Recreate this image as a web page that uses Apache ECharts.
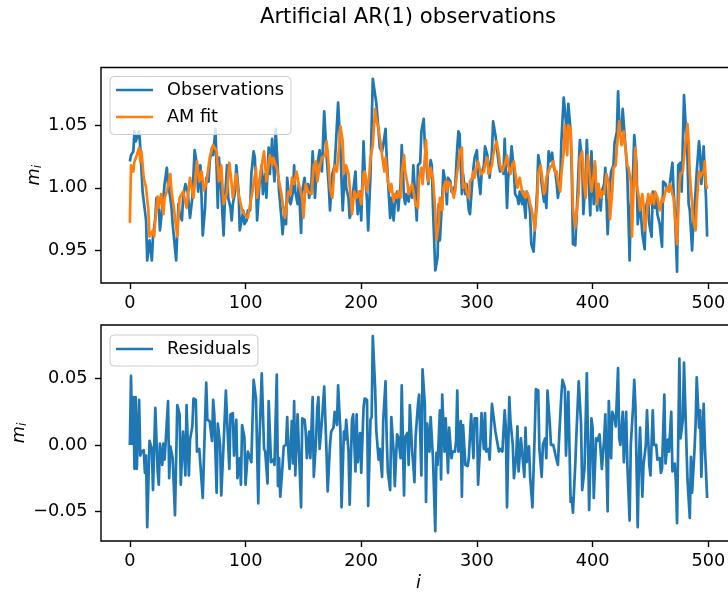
<!DOCTYPE html>
<html><head><meta charset="utf-8">
<script src="https://cdn.jsdelivr.net/npm/echarts@6/dist/echarts.min.js"></script>
<style>html,body{margin:0;padding:0;background:#fff}#c{width:728px;height:593px}</style>
</head><body><div id="c"></div>
<script>
const titleText = 'Artificial AR(1) observations';
const xTicks = [0, 100, 200, 300, 400, 500];
const topYTicks = [0.95, 1.00, 1.05];
const botYTicks = [-0.05, 0.00, 0.05];

const obsIdx = [0,1,3,4,5,7,8,9,11,12,
14,15,17,19,20,22,23,25,26,28,
29,30,32,33,35,36,37,40,42,43,
45,46,48,49,50,52,54,56,58,59,
61,62,63,65,66,68,69,71,72,74,
76,77,78,79,81,82,84,85,87,88,
89,91,92,94,95,97,98,99,101,102,
104,105,107,108,109,110,112,114,115,117,
118,120,121,123,124,125,126,128,129,131,
132,134,135,136,138,139,141,142,143,145,
146,148,149,151,152,154,155,157,158,160,
161,162,164,165,166,168,170,171,172,173,
175,177,178,180,182,183,184,186,187,189,
190,192,193,195,196,197,199,200,202,203,
205,206,208,209,210,212,213,215,216,218,
219,221,222,223,225,226,228,229,231,232,
234,235,237,238,239,241,242,244,245,247,
248,249,251,252,254,255,257,258,260,261,
262,264,265,266,267,268,270,271,273,274,
275,277,278,280,281,283,284,285,287,288,
290,291,293,294,296,297,298,300,301,303,
304,306,307,309,310,311,313,314,316,317,
319,320,322,323,324,326,327,329,330,332,
333,335,336,337,339,340,342,343,345,346,
347,349,350,352,353,355,356,358,359,360,
362,363,365,366,368,369,370,372,373,375,
376,378,379,381,382,383,385,386,388,389,
391,392,394,395,396,398,399,401,402,404,
405,407,408,410,411,413,415,416,418,419,
421,422,423,425,426,428,429,430,432,433,
435,436,438,439,441,442,443,445,446,448,
449,451,452,454,455,456,458,460,461,463,
464,466,467,469,470,471,473,474,476,477,
479,480,482,483,484,486,487,489,490,492,
493,494,496,497,498,499];
const obsVal = [1.021,1.026,1.029,1.045,1.037,1.042,1.045,1.032,0.997,0.997,
0.974,0.942,0.958,0.942,0.961,0.976,0.992,0.984,0.966,0.984,
0.992,1.003,1.016,1.003,0.992,0.984,0.971,0.942,0.987,0.979,
0.974,0.992,1.003,1.003,0.997,0.976,0.992,1.030,1.018,0.997,
1.018,0.992,0.962,0.984,1.008,1.005,1.021,1.032,1.026,1.047,
0.984,1.024,1.011,0.997,0.962,0.987,1.018,0.992,0.984,0.974,
0.987,0.997,1.018,0.997,0.966,0.976,0.982,0.971,0.974,0.982,
0.982,1.011,1.029,1.024,1.005,0.974,1.003,1.018,0.995,1.011,
0.992,1.032,1.011,1.039,1.018,1.005,1.047,1.013,0.997,0.976,
0.963,0.984,0.971,1.008,0.989,0.987,0.997,1.018,0.997,0.987,
1.003,0.964,0.997,1.008,0.997,1.003,0.992,1.005,1.029,0.992,
1.008,1.018,1.030,1.018,1.013,1.061,1.026,1.013,1.000,0.982,
1.011,1.018,1.033,1.068,1.032,1.005,0.982,1.018,1.000,0.992,
0.976,0.982,0.997,1.013,0.992,0.979,0.997,0.974,1.037,1.013,
0.990,0.966,1.010,1.050,1.087,1.074,1.068,1.045,1.032,1.029,
1.034,1.047,1.024,1.008,0.976,0.992,0.974,0.987,0.997,0.982,
1.003,1.034,0.992,0.987,0.995,0.989,1.000,0.992,1.018,0.989,
0.974,1.018,1.020,1.045,1.055,1.034,1.011,1.003,1.022,1.018,
0.984,0.934,0.939,0.945,0.987,0.958,0.992,1.014,1.003,0.987,
1.008,1.005,0.997,1.000,0.997,1.032,1.045,1.043,0.995,1.011,
0.995,1.003,0.982,0.979,1.005,1.016,1.024,1.030,1.011,0.995,
1.011,1.018,1.033,1.026,1.018,1.008,1.029,1.053,1.042,1.034,
1.018,1.013,1.016,1.011,1.039,0.984,1.008,1.021,1.033,1.013,
0.995,0.992,0.987,0.997,0.987,0.997,0.976,0.997,0.989,0.979,
0.955,0.949,0.966,0.997,1.026,1.016,1.003,0.989,0.995,0.984,
1.029,1.021,1.028,1.018,1.011,1.003,0.992,1.005,1.037,1.072,
1.063,1.039,1.067,1.045,1.011,0.955,0.954,0.974,1.018,1.038,
1.021,0.979,1.011,1.038,1.018,0.978,1.029,0.987,1.018,0.982,
1.003,0.982,0.997,1.003,1.016,0.963,1.003,1.013,1.018,1.036,
1.045,1.077,1.053,1.045,1.063,1.037,1.026,1.011,0.942,0.984,
1.013,1.042,1.018,0.971,0.989,0.976,0.963,0.951,0.984,0.992,
0.971,0.961,0.997,0.984,0.992,0.979,0.971,0.953,1.005,1.003,
1.000,0.997,1.005,1.020,0.997,0.984,0.933,1.018,1.020,0.997,
1.074,1.074,1.024,0.987,0.982,0.950,0.971,0.997,1.013,1.037,
1.026,1.003,1.033,1.011,0.992,0.961];

const fitIdx = [0,1,3,4,6,8,9,10,12,14,
16,17,20,21,22,24,25,27,29,30,
32,35,36,38,41,43,46,49,52,55,
58,60,62,64,66,69,72,75,77,79,
81,84,86,88,89,92,94,97,99,102,
104,106,109,110,112,114,116,118,119,121,
123,124,125,127,129,131,133,134,135,137,
139,140,142,144,146,147,149,150,152,154,
157,159,161,162,164,166,169,170,171,173,
175,177,179,181,182,184,185,187,189,191,
192,194,196,198,200,202,203,205,207,208,
210,212,213,215,217,218,220,221,223,225,
226,228,229,231,232,234,235,237,238,240,
241,242,244,247,249,250,252,253,255,256,
257,258,260,261,262,264,265,267,268,270,
271,273,274,275,277,278,280,281,283,284,
285,287,288,290,291,293,294,296,297,298,
300,301,303,304,306,307,309,310,311,313,
314,316,317,319,320,322,323,324,326,327,
329,330,332,333,335,336,337,339,340,342,
343,345,346,347,349,350,352,353,355,356,
358,359,360,362,363,365,366,368,369,370,
372,373,375,376,378,379,381,382,383,385,
386,388,389,391,392,394,395,396,398,399,
401,402,404,405,407,408,410,411,412,414,
415,417,418,420,421,423,424,425,427,428,
430,431,433,434,435,437,438,440,441,443,
444,445,447,448,450,451,453,454,456,457,
458,460,461,463,464,466,467,469,470,471,
473,475,476,478,480,482,483,484,486,487,
489,490,492,493,494,496,497,498,499];
const fitVal = [0.972,1.018,1.013,1.021,1.026,1.032,1.021,1.029,1.008,1.000,
0.982,0.961,0.966,0.961,0.974,0.993,0.984,0.995,0.979,0.992,
0.997,1.011,0.997,0.984,0.961,0.992,0.997,0.984,1.008,0.992,
1.021,1.005,1.013,0.998,1.003,1.024,1.034,1.029,1.005,1.018,
0.987,0.997,1.020,1.003,0.992,1.011,0.995,0.982,0.979,0.976,
0.987,0.997,1.016,0.992,1.005,1.018,1.029,1.005,1.013,1.026,
1.018,1.024,1.021,1.016,1.005,0.995,0.982,0.976,0.982,0.997,
0.995,1.008,1.003,1.013,1.003,1.003,0.992,0.976,1.003,0.997,
0.995,1.018,1.021,1.005,1.016,1.024,1.026,1.037,1.029,1.000,
0.992,1.018,1.013,1.034,1.049,1.037,1.011,1.018,1.011,0.992,
0.979,0.997,0.992,0.997,0.987,1.011,1.013,0.997,1.011,1.024,
1.034,1.063,1.055,1.047,1.034,1.026,1.013,1.024,1.005,0.997,
1.003,0.989,0.995,0.992,0.997,0.992,1.011,1.026,1.013,1.003,
0.995,0.997,1.003,0.987,0.984,1.008,1.016,1.003,1.024,1.038,
1.018,1.005,1.016,1.011,1.008,0.982,0.958,0.971,0.992,0.982,
1.000,1.005,0.997,1.005,1.003,1.000,0.992,0.997,1.013,1.018,
1.029,1.032,1.000,1.003,0.997,0.992,1.005,1.008,1.013,1.008,
1.018,1.021,1.013,1.011,1.013,1.018,1.024,1.011,1.013,1.018,
1.026,1.034,1.037,1.026,1.018,1.013,1.016,1.018,1.026,1.018,
1.011,1.016,1.021,1.013,1.000,1.005,1.008,0.997,0.995,0.992,
0.997,0.992,0.987,0.984,0.974,0.966,0.987,1.011,1.018,1.011,
0.995,0.997,1.008,1.013,1.016,1.018,1.021,1.011,1.013,1.005,
0.997,1.011,1.029,1.050,1.026,1.050,1.047,1.021,0.984,0.968,
0.968,0.997,1.024,1.029,1.008,0.992,1.018,1.026,1.005,0.997,
1.011,1.021,0.987,1.003,0.992,0.997,0.995,1.003,1.011,1.003,
0.975,0.997,1.016,1.018,1.032,1.053,1.042,1.034,1.045,1.034,
1.018,1.016,1.005,0.961,0.989,1.032,1.003,0.992,0.982,0.995,
0.987,0.966,0.979,0.995,0.987,0.995,0.987,0.997,0.992,0.987,
0.982,0.992,0.989,0.997,1.000,0.997,1.003,0.995,0.992,0.979,
0.955,1.003,1.011,1.013,1.034,1.051,1.037,1.011,0.987,0.974,
0.966,0.987,1.013,1.008,1.011,1.013,1.021,1.003,0.999];

const resIdx = [0,1,2,3,4,5,6,8,9,10,
12,13,14,15,17,19,20,22,24,25,
26,28,29,30,31,33,34,35,37,39,
41,43,44,46,48,49,51,52,54,55,
57,58,60,61,63,64,66,67,69,71,
72,73,75,76,78,79,81,83,85,86,
87,89,90,92,93,95,96,97,99,100,
102,103,105,107,109,111,112,114,116,117,
119,120,121,122,124,125,127,128,129,130,
132,133,135,136,137,138,140,141,142,143,
145,146,148,149,151,152,153,155,156,158,
159,161,162,163,164,166,167,168,170,171,
173,174,176,177,179,180,182,183,185,186,
187,189,190,192,193,195,196,197,199,200,
202,203,205,206,208,209,210,212,213,215,
216,218,219,221,222,223,225,226,228,229,
231,232,234,235,237,238,240,241,242,244,
245,246,247,249,250,252,253,255,256,257,
259,260,262,264,265,266,268,269,270,272,
273,275,276,278,279,281,282,283,284,286,
287,288,290,292,293,295,297,298,300,301,
303,304,306,307,308,310,311,313,314,316,
318,319,320,322,324,325,326,328,329,331,
332,334,335,336,338,339,341,342,343,345,
346,348,350,351,353,354,356,357,359,360,
361,363,364,366,367,368,370,371,373,374,
376,377,379,381,382,383,385,386,388,390,
391,393,395,397,399,400,401,403,404,406,
407,408,410,411,413,414,416,417,419,420,
422,423,424,426,427,429,430,432,433,435,
436,437,439,440,441,443,444,446,447,449,
450,452,453,455,456,458,459,460,462,463,
465,466,468,469,471,472,473,475,476,478,
479,481,482,484,485,486,488,489,490,492,
493,494,496,497,498,499];
const resVal = [0,0.052,0.001,0.036,-0.018,0.036,-0.018,0.034,-0.008,-0.005,
-0.004,-0.021,-0.008,-0.062,0.003,-0.003,-0.034,0.028,-0.020,-0.030,
0.001,-0.015,0.001,-0.011,0.003,0.033,-0.025,-0.001,-0.010,-0.053,
0.030,0.023,-0.030,0.010,-0.023,0.030,-0.023,0.004,0.014,0.035,
0.034,-0.005,-0.003,-0.015,-0.040,-0.040,0.047,0.019,0.018,0.003,
0.034,0.023,-0.036,0.016,0.000,-0.038,0.000,0.041,0.000,-0.018,
0.023,0.024,-0.008,0.019,-0.025,-0.010,-0.030,0.015,0.006,-0.030,
-0.005,-0.005,-0.013,0.049,0.035,-0.044,0.003,0.054,-0.003,-0.005,
-0.029,0.033,0.032,-0.013,-0.011,-0.015,0.053,-0.031,-0.010,-0.039,
-0.015,-0.001,0.000,0.021,-0.005,-0.018,0.018,-0.014,0.033,-0.023,
0.023,0.000,-0.047,0.020,0.019,0.010,-0.010,0.010,-0.010,0.036,
-0.024,0.005,0.028,0.036,-0.003,0.018,0.019,0.044,-0.006,-0.035,
0.000,0.010,0.013,0.025,0.015,0.045,0.010,-0.047,0.010,0.004,
0.019,-0.005,-0.045,0.019,0.023,-0.020,0.023,-0.013,0.009,-0.021,
0.028,0.035,0.034,-0.046,0.019,0.021,0.082,0.043,0.011,-0.011,
-0.003,-0.024,0.018,0.048,0.005,-0.020,-0.034,0.021,-0.005,-0.031,
0.008,0.006,-0.010,0.045,-0.038,0.006,0.009,-0.015,0.030,-0.005,
-0.015,-0.028,0.006,0.030,0.038,-0.023,0.057,0.030,-0.043,0.016,
-0.005,0.021,-0.010,-0.065,-0.006,-0.015,0.026,-0.026,0.038,-0.005,
0.020,-0.021,0.013,-0.010,-0.005,-0.005,0.003,0.041,-0.005,0.018,
-0.039,0.015,-0.015,-0.016,-0.010,0.023,-0.010,0.020,0.020,-0.030,
0.003,0.024,-0.003,0.024,-0.005,-0.003,-0.011,0.031,0.030,0.010,
0.000,-0.005,-0.003,-0.005,0.026,0.013,-0.047,0.036,0.018,0.000,
-0.025,-0.008,0.014,-0.020,0.005,0.006,-0.024,0.013,-0.013,-0.001,
-0.024,-0.047,0.010,0.042,0.041,-0.003,-0.024,0.000,0.005,-0.010,
0.041,0.016,0.000,0.000,0.001,-0.008,-0.015,0.004,0.038,0.049,
0.043,-0.008,0.040,-0.043,-0.040,-0.051,-0.015,0.008,0.048,0.016,
-0.034,-0.018,0.054,-0.049,0.020,0.013,-0.040,0.005,0.003,0.008,
-0.005,-0.018,0.005,0.023,-0.050,0.033,-0.010,0.025,0.020,0.014,
0.058,0.005,0.000,0.025,-0.013,0.025,-0.014,-0.057,0.000,0.029,
0.049,0.030,-0.062,-0.014,0.013,-0.039,-0.015,0.000,0.026,-0.015,
-0.023,0.026,0.000,0.000,-0.011,-0.010,-0.021,-0.018,0.038,-0.014,
0.004,-0.005,0.025,-0.020,-0.014,-0.028,-0.059,0.065,0.005,0.019,
0.062,0.003,-0.026,-0.055,-0.009,-0.036,-0.005,0.015,0.051,0.013,
0.026,-0.024,0.031,0.000,-0.020,-0.040];

const FONT = 'DejaVu Sans';
const FS = 17.7;
const BLUE = '#1f77b4', ORANGE = '#ff7f0e';
const LW = 2.7;

function pairs(xs, ys) {
  const n = Math.min(xs.length, ys.length);
  const out = [];
  for (let k = 0; k < n; k++) out.push([xs[k], ys[k]]);
  return out;
}
const fmt = v => (Math.abs(v) < 1e-9 ? 0 : v).toFixed(2).replace('-', '\u2212');

const chart = echarts.init(document.getElementById('c'), null, {renderer: 'canvas'});

function xAxisCfg(gi, withName) {
  return {
    type: 'value', gridIndex: gi, min: -24.95, max: 523.95,
    axisLine: {show: false, onZero: false},
    splitLine: {show: false},
    axisTick: {show: true, customValues: xTicks, length: 6, lineStyle: {color: '#000', width: 1.4}},
    axisLabel: {customValues: xTicks, color: '#000', fontFamily: FONT, fontSize: FS, margin: 11,
      formatter: v => String(v)},
    name: withName ? '{a|i}' : '',
    nameLocation: 'middle', nameGap: 33, nameMoveOverlap: false,
    nameTextStyle: {rich: {a: {fontFamily: FONT, fontStyle: 'italic', fontSize: FS, color: '#000'}}}
  };
}
function yAxisCfg(gi, mn, mx, ticks, gap) {
  return {
    type: 'value', gridIndex: gi, min: mn, max: mx,
    axisLine: {show: false, onZero: false},
    splitLine: {show: false},
    axisTick: {show: true, customValues: ticks, length: 6, lineStyle: {color: '#000', width: 1.4}},
    axisLabel: {customValues: ticks, color: '#000', fontFamily: FONT, fontSize: FS, margin: 13.5, formatter: fmt},
    name: '{a|m}{b|i}', nameLocation: 'middle', nameRotate: 90, nameGap: gap, nameMoveOverlap: false,
    nameTextStyle: {rich: {
      a: {fontFamily: FONT, fontStyle: 'italic', fontSize: FS, color: '#000', lineHeight: 20},
      b: {fontFamily: FONT, fontStyle: 'italic', fontSize: 12.4, color: '#000', lineHeight: 7, verticalAlign: 'bottom'}
    }}
  };
}

const legendCommon = {
  orient: 'vertical', left: 110, itemWidth: 37, itemHeight: 2.7, itemGap: 9, icon: 'rect',
  backgroundColor: 'rgba(255,255,255,0.8)', borderColor: '#cccccc', borderWidth: 1, borderRadius: 4,
  textStyle: {fontFamily: FONT, fontSize: FS, color: '#000', lineHeight: 18, padding: [0, 0, 0, 9]}
};

chart.setOption({
  animation: false,
  backgroundColor: '#ffffff',
  graphic: [{
    type: 'text', x: 408, y: 17, z: 10,
    style: {text: titleText, font: '21.2px "DejaVu Sans"', fill: '#000', align: 'center', verticalAlign: 'middle'}
  }],
  grid: [
    {left: 101, top: 67.5, width: 635, height: 215.5, show: true, borderColor: '#000', borderWidth: 1.4,
      backgroundColor: 'transparent', containLabel: false, outerBoundsMode: 'none'},
    {left: 101, top: 325, width: 635, height: 216, show: true, borderColor: '#000', borderWidth: 1.4,
      backgroundColor: 'transparent', containLabel: false, outerBoundsMode: 'none'}
  ],
  xAxis: [xAxisCfg(0, false), xAxisCfg(1, true)],
  yAxis: [yAxisCfg(0, 0.924, 1.096, topYTicks, 57), yAxisCfg(1, -0.0724, 0.0904, botYTicks, 72)],
  legend: [
    Object.assign({}, legendCommon, {top: 76.5, padding: [4.5, 7, 8.5, 6], data: ['Observations', 'AM fit']}),
    Object.assign({}, legendCommon, {top: 335, padding: [5, 7, 8, 6], data: ['Residuals']})
  ],
  series: [
    {name: 'Observations', type: 'line', xAxisIndex: 0, yAxisIndex: 0, data: pairs(obsIdx, obsVal),
      symbol: 'none', lineStyle: {color: BLUE, width: LW, join: 'round'}, itemStyle: {color: BLUE}, z: 2},
    {name: 'AM fit', type: 'line', xAxisIndex: 0, yAxisIndex: 0, data: pairs(fitIdx, fitVal),
      symbol: 'none', lineStyle: {color: ORANGE, width: LW, join: 'round'}, itemStyle: {color: ORANGE}, z: 3},
    {name: 'Residuals', type: 'line', xAxisIndex: 1, yAxisIndex: 1, data: pairs(resIdx, resVal),
      symbol: 'none', lineStyle: {color: BLUE, width: LW, join: 'round'}, itemStyle: {color: BLUE}, z: 2}
  ]
});
</script></body></html>
